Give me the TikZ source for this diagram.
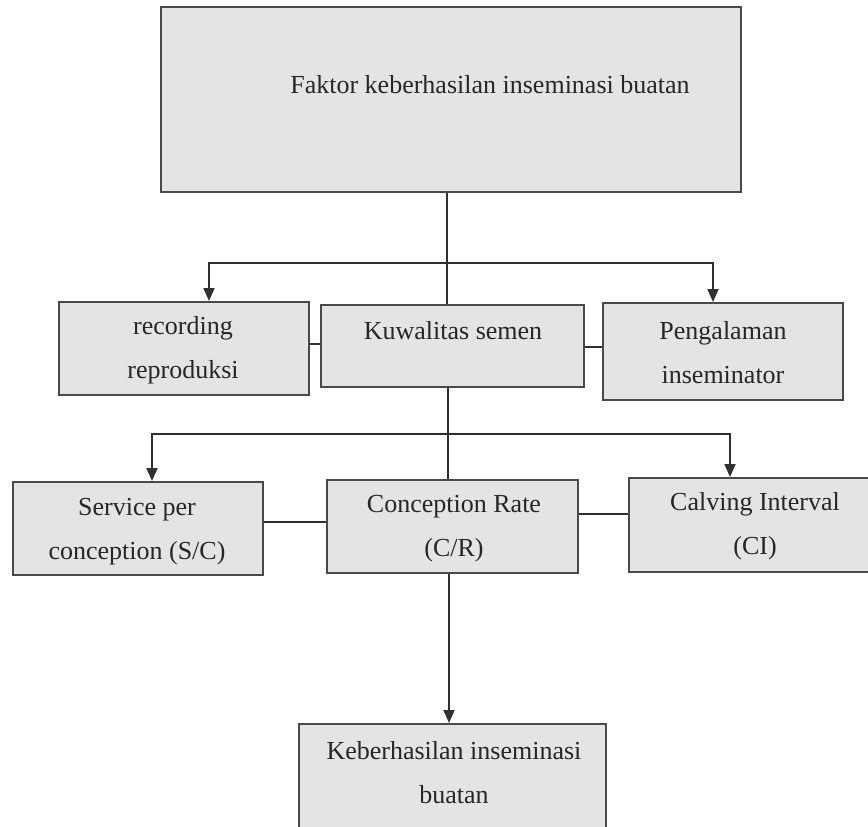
\documentclass[tikz,border=0pt]{standalone}
\usepackage{fontspec}
\setmainfont{Liberation Serif}
\usetikzlibrary{calc}
\usetikzlibrary{arrows.meta}
\definecolor{boxfill}{HTML}{E4E4E4}
\definecolor{boxline}{HTML}{4A4A4A}
\definecolor{linecol}{HTML}{303030}

\begin{document}
\begin{tikzpicture} [x=.5pt, y=-.5pt, box/.style={draw=boxline, fill=boxfill, line width=1pt, inner sep=0pt}, txt/.style={font=\fontsize{13}{22}\selectfont, align=center, inner sep=0pt, text=black!85}, con/.style={draw=linecol, line width=.9pt}, arr/.style={con, -{Triangle[length=6.5pt, width=5.5pt]}}]
\useasboundingbox (0,0) rectangle (868,826);
\clip (0,0) rectangle (868,826);

% boxes
\node[box, minimum width=290pt, minimum height=92.5pt] (top) at (451,99.5) {};
\node[box, minimum width=125pt, minimum height=46.5pt] (rec) at (184,348.5) {};
\node[box, minimum width=131.5pt, minimum height=41pt] (kuw) at (452.5,346) {};
\node[box, minimum width=120pt, minimum height=48.5pt] (peng) at (723,351.5) {};
\node[box, minimum width=125pt, minimum height=46.5pt] (spc) at (138,528.5) {};
\node[box, minimum width=125.5pt, minimum height=46.5pt] (cr) at (452.5,526.5) {};
\node[box, minimum width=125.5pt, minimum height=47pt] (ci) at (754.5,525) {};
\node[box, minimum width=153.5pt, minimum height=58pt] (hasil) at (452.5,782) {};

% texts
\node[txt] (top-t) at (490,85) {Faktor keberhasilan inseminasi buatan};
\node[txt] (rec-t) at (183,350.5) {recording\\reproduksi};
\node[txt] (kuw-t) at (453,331) {Kuwalitas semen};
\node[txt] (peng-t) at (723,352.5) {Pengalaman\\inseminator};
\node[txt] (spc-t) at (137,532) {Service per\\conception (S/C)};
\node[txt] (cr-t) at (454,529) {Conception Rate\\(C/R)};
\node[txt] (ci-t) at (755,526.5) {Calving Interval\\(CI)};
\node[txt] (hasil-t) at (454,772.5) {Keberhasilan inseminasi\\buatan};

% connectors
\coordinate (j1) at (447,263);
\coordinate (j2) at (448,434);
\draw[con] (top.south -| j1) -- (kuw.north -| j1);
\draw[arr] (j1) -| ([xshift=12.5pt]rec.north);
\draw[arr] (j1) -| ([xshift=-5pt]peng.north);
\draw[con] ([yshift=2.25pt]rec.east) -- ([yshift=2.25pt]rec.east -| kuw.west);
\draw[con] ([yshift=-.5pt]kuw.east) -- ([yshift=-.5pt]kuw.east -| peng.west);

\draw[con] (kuw.south -| j2) -- (cr.north -| j2);
\draw[arr] (j2) -| ([xshift=7pt]spc.north);
\draw[arr] (j2) -| ([xshift=-12.25pt]ci.north);
\draw[con] ([yshift=3.25pt]spc.east) -- ([yshift=3.25pt]spc.east -| cr.west);
\draw[con] ([yshift=6.25pt]cr.east) -- ([yshift=6.25pt]cr.east -| ci.west);

\draw[arr] ([xshift=-1.75pt]cr.south) -- ([xshift=-1.75pt]cr.south |- hasil.north);

\end{tikzpicture}
\end{document}
